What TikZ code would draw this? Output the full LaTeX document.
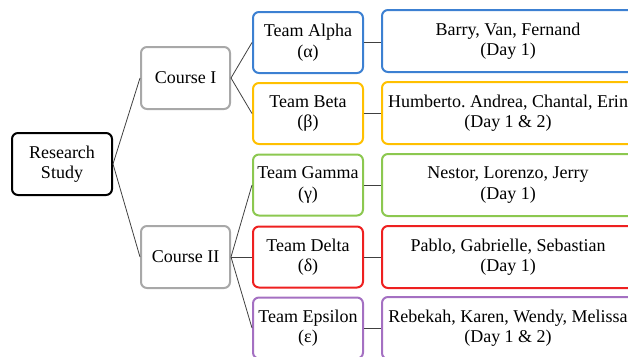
\documentclass[tikz,border=0pt]{standalone}
\usepackage{fontspec}
\setmainfont{Liberation Serif}
\usepackage{tikz}
\usetikzlibrary{positioning}
\definecolor{alphablue}{HTML}{3C80D2}
\definecolor{betayellow}{HTML}{FFC000}
\definecolor{gammagreen}{HTML}{8CC850}
\definecolor{deltared}{HTML}{EE2020}
\definecolor{epsviolet}{HTML}{A470C2}
\definecolor{coursegray}{HTML}{A8A8A8}
\frenchspacing

\begin{document}
\begin{tikzpicture}
	[x=1pt, y=-1pt, font=\fontsize{18}{20.5}\selectfont,
	box/.style	= {rectangle, rounded corners=6pt, line width=2pt, align=center, inner sep=0pt},
	root/.style	= {box, draw=black, minimum width=100pt, minimum height=62pt},
	course/.style	= {box, draw=coursegray, minimum width=89pt, minimum height=62pt},
	team/.style	= {box, minimum width=110pt, minimum height=61pt},
	names/.style	= {box, minimum width=252pt, minimum height=62pt},
	paths/.style	= {draw=black!75, line width=0.8pt}]
	
	\clip (0, 0) rectangle (628, 356);
	
	\node at (62, 164)	[root]		(rs)	{Research\\Study};
	
	\node at (185.5, 78)	[course]	(c1)	{Course I};
	\node at (185.5, 257)	[course]	(c2)	{Course II};
	
	\node at (308, 42.5)	[team, draw=alphablue]	(ta)	{Team Alpha\\(α)};
	\node at (308, 113.5)	[team, draw=betayellow]	(tb)	{Team Beta\\(β)};
	\node at (308, 185)	[team, draw=gammagreen]	(tg)	{Team Gamma\\(γ)};
	\node at (308, 257)	[team, draw=deltared]	(td)	{Team Delta\\(δ)};
	\node at (308, 328)	[team, draw=epsviolet]	(te)	{Team Epsilon\\(ε)};
	
	\node at (508, 41)	[names, draw=alphablue]	(na)	{Barry, Van, Fernand\\(Day 1)};
	\node at (508, 113)	[names, draw=betayellow]	(nb)	{Humberto. Andrea, Chantal, Erin\\(Day 1 \& 2)};
	\node at (508, 185)	[names, draw=gammagreen]	(ng)	{Nestor, Lorenzo, Jerry\\(Day 1)};
	\node at (508, 257)	[names, draw=deltared]	(nd)	{Pablo, Gabrielle, Sebastian\\(Day 1)};
	\node at (508, 328)	[names, draw=epsviolet]	(ne)	{Rebekah, Karen, Wendy, Melissa\\(Day 1 \& 2)};
	
	\draw [paths] (rs.east) -- (c1.west);
	\draw [paths] (rs.east) -- (c2.west);
	
	\draw [paths] (c1.east) -- (ta.west);
	\draw [paths] (c1.east) -- (tb.west);
	\draw [paths] (c2.east) -- (tg.west);
	\draw [paths] (c2.east) -- (td.west);
	\draw [paths] (c2.east) -- (te.west);
	
	\draw [paths] (ta.east) -- (na.west |- ta.east);
	\draw [paths] (tb.east) -- (nb.west |- tb.east);
	\draw [paths] (tg.east) -- (ng.west |- tg.east);
	\draw [paths] (td.east) -- (nd.west |- td.east);
	\draw [paths] (te.east) -- (ne.west |- te.east);
\end{tikzpicture}
\end{document}
